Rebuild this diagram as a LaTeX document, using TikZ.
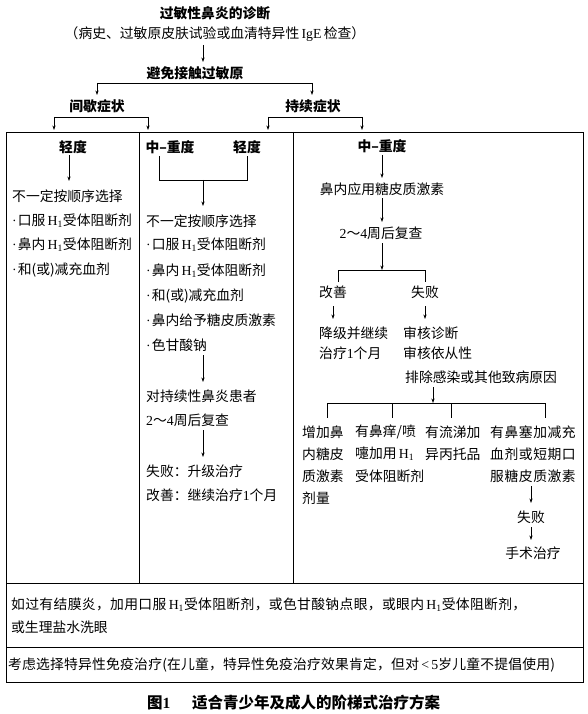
\documentclass[tikz,border=0pt]{standalone}
\usepackage{fontspec}
\setmainfont{Noto Sans CJK SC}
\newfontfamily\lat{Liberation Serif}
\usetikzlibrary{arrows.meta}
\newcommand\myfont{\fontsize{13.8}{16}\selectfont}
\newcommand\Hone{{\lat\,H\textsubscript{1}}}
\newcommand\bul{{\lat\textperiodcentered}\hspace{1pt}}
\tikzset{
  txt/.style={inner sep=0pt, font=\myfont, anchor=west},
  ctxt/.style={inner sep=0pt, font=\myfont},
  hd/.style={inner sep=0pt, font=\myfont\bfseries},
  conn/.style={line width=0.7pt},
  arr/.style={conn, -{Stealth[length=4.5pt,width=3.2pt]}},
  frame/.style={line width=0.9pt}
}
\begin{document}
\begin{tikzpicture}[x=1pt,y=-1pt]
\useasboundingbox[fill=white] (0,0) rectangle (587,714);

% ---------- top ----------
\node[hd] (title) at (215,13) {过敏性鼻炎的诊断};
\node[ctxt] (sub) at (215,34) {（病史、过敏原皮肤试验或血清特异性{\lat\,IgE\,}检查）};
\node[hd] (avoid) at (195,73) {避免接触过敏原};
\node[hd] (inter) at (97,106) {间歇症状};
\node[hd] (pers) at (313,106) {持续症状};

\coordinate (a1) at (203,45);
\coordinate (a2) at (203,62);
\draw[arr] (a1) -- (a2);

\coordinate (b1) at (97,83);
\coordinate (b2) at (312,83);
\coordinate (b1e) at (97,95);
\coordinate (b2e) at (312,95);
\draw[arr] (b1) -- (b1e);
\draw[arr] (b2) -- (b2e);
\draw[conn] (b1) -- (b2);

\coordinate (l1) at (54,117);
\coordinate (l2) at (148,117);
\coordinate (l1e) at (54,130);
\coordinate (l2e) at (148,130);
\draw[conn] (l1) -- (l2);
\draw[arr] (l1) -- (l1e);
\draw[arr] (l2) -- (l2e);

\coordinate (r1) at (268,117);
\coordinate (r2) at (362,117);
\coordinate (r1e) at (268,130);
\coordinate (r2e) at (362,130);
\draw[conn] (r1) -- (r2);
\draw[arr] (r1) -- (r1e);
\draw[arr] (r2) -- (r2e);

% ---------- frame ----------
\coordinate (boxtl) at (6,132);
\coordinate (boxbr) at (583,682);
\draw[frame] (boxtl) rectangle (boxbr);
\coordinate (d1t) at (139,132);
\coordinate (d1b) at (139,583);
\coordinate (d2t) at (293,132);
\coordinate (d2b) at (293,583);
\draw[frame] (d1t) -- (d1b);
\draw[frame] (d2t) -- (d2b);
\coordinate (h1l) at (6,583);
\coordinate (h1r) at (583,583);
\coordinate (h2l) at (6,647);
\coordinate (h2r) at (583,647);
\draw[frame] (h1l) -- (h1r);
\draw[frame] (h2l) -- (h2r);

% ---------- left column ----------
\node[hd] (lmild) at (73,147) {轻度};
\coordinate (lm1) at (69,155);
\coordinate (lm2) at (69,181);
\draw[arr] (lm1) -- (lm2);
\node[txt] (lt1) at (12,196) {不一定按顺序选择};
\node[txt] (lt2) at (12,221) {\bul 口服\Hone 受体阻断剂};
\node[txt] (lt3) at (12,245) {\bul 鼻内\Hone 受体阻断剂};
\node[txt] (lt4) at (12,270) {\bul 和(或)减充血剂};

% ---------- middle column ----------
\node[hd] (mmod) at (170,147) {中–重度};
\node[hd] (mmild) at (247,147) {轻度};
\coordinate (mb1) at (159,156);
\coordinate (mb2) at (159,180);
\coordinate (mb3) at (247,180);
\coordinate (mb4) at (247,156);
\draw[conn] (mb1) -- (mb2) -- (mb3) -- (mb4);
\coordinate (ma1) at (203,180);
\coordinate (ma2) at (203,206);
\draw[arr] (ma1) -- (ma2);
\node[txt] (mt1) at (146,221) {不一定按顺序选择};
\node[txt] (mt2) at (146,245) {\bul 口服\Hone 受体阻断剂};
\node[txt] (mt3) at (146,271) {\bul 鼻内\Hone 受体阻断剂};
\node[txt] (mt4) at (146,296) {\bul 和(或)减充血剂};
\node[txt] (mt5) at (146,320) {\bul 鼻内给予糖皮质激素};
\node[txt] (mt6) at (146,345) {\bul 色甘酸钠};
\coordinate (mc1) at (203,355);
\coordinate (mc2) at (203,382);
\draw[arr] (mc1) -- (mc2);
\node[txt] (mt7) at (146,396) {对持续性鼻炎患者};
\node[txt] (mt8) at (146,420) {{\lat 2}～{\lat 4}周后复查};
\coordinate (md1) at (203,430);
\coordinate (md2) at (203,457);
\draw[arr] (md1) -- (md2);
\node[txt] (mt9) at (146,471) {失败：升级治疗};
\node[txt] (mt10) at (146,495) {改善：继续治疗{\lat 1}个月};

% ---------- right column ----------
\node[hd] (rmod) at (382,146) {中–重度};
\coordinate (ra1) at (382,155);
\coordinate (ra2) at (382,178);
\draw[arr] (ra1) -- (ra2);
\node[ctxt] (rt1) at (382,189) {鼻内应用糖皮质激素};
\coordinate (rb1) at (382,198);
\coordinate (rb2) at (382,222);
\draw[arr] (rb1) -- (rb2);
\node[ctxt] (rt2) at (381,233) {{\lat 2}～{\lat 4}周后复查};
\coordinate (rc1) at (382,243);
\coordinate (rc2) at (382,270);
\draw[arr] (rc1) -- (rc2);
\coordinate (rk1) at (338,282);
\coordinate (rk2) at (338,270);
\coordinate (rk3) at (425,270);
\coordinate (rk4) at (425,282);
\draw[conn] (rk1) -- (rk2) -- (rk3) -- (rk4);
\node[ctxt] (rimp) at (333,292) {改善};
\node[ctxt] (rfail) at (425,292) {失败};
\coordinate (ri1) at (333,306);
\coordinate (ri2) at (333,319);
\draw[arr] (ri1) -- (ri2);
\coordinate (rf1) at (425,306);
\coordinate (rf2) at (425,319);
\draw[arr] (rf1) -- (rf2);
\node[txt] (rs1) at (319,333) {降级并继续};
\node[txt] (rs2) at (319,353) {治疗{\lat 1}个月};
\node[txt] (rs3) at (403,333) {审核诊断};
\node[txt] (rs4) at (403,353) {审核依从性};
\node[txt] (rs5) at (405,377) {排除感染或其他致病原因};
\coordinate (re1) at (433,387);
\coordinate (re2) at (433,403);
\draw[arr] (re1) -- (re2);
\coordinate (rg1) at (327,403);
\coordinate (rg2) at (545,403);
\draw[conn] (rg1) -- (rg2);
\coordinate (rg1b) at (327,418);
\coordinate (rg3) at (392,403);
\coordinate (rg3b) at (392,418);
\coordinate (rg4) at (451,403);
\coordinate (rg4b) at (451,418);
\coordinate (rg2b) at (545,418);
\draw[conn] (rg1) -- (rg1b);
\draw[conn] (rg3) -- (rg3b);
\draw[conn] (rg4) -- (rg4b);
\draw[conn] (rg2) -- (rg2b);

\node[txt] (c1a) at (302,432) {增加鼻};
\node[txt] (c1b) at (302,454) {内糖皮};
\node[txt] (c1c) at (302,476) {质激素};
\node[txt] (c1d) at (302,498) {剂量};
\node[txt] (c2a) at (355,432) {有鼻痒/喷};
\node[txt] (c2b) at (355,454) {嚏加用\Hone};
\node[txt] (c2c) at (355,476) {受体阻断剂};
\node[txt] (c3a) at (425,432) {有流涕加};
\node[txt] (c3b) at (425,454) {异丙托品};
\node[txt,font=\myfont\addfontfeature{LetterSpace=4}] (c4a) at (490,432) {有鼻塞加减充};
\node[txt,font=\myfont\addfontfeature{LetterSpace=4}] (c4b) at (490,454) {血剂或短期口};
\node[txt,font=\myfont\addfontfeature{LetterSpace=4}] (c4c) at (490,476) {服糖皮质激素};
\coordinate (s1) at (531,486);
\coordinate (s2) at (531,503);
\draw[arr] (s1) -- (s2);
\node[ctxt] (sfail) at (531,517) {失败};
\coordinate (s3) at (531,527);
\coordinate (s4) at (531,540);
\draw[arr] (s3) -- (s4);
\node[ctxt] (surg) at (533,553) {手术治疗};

% ---------- bottom ----------
\node[txt,font=\myfont\addfontfeature{LetterSpace=2.5}] (eye1) at (11,605) {如过有结膜炎，加用口服\Hone 受体阻断剂，或色甘酸钠点眼，或眼内\Hone 受体阻断剂，};
\node[txt] (eye2) at (11,627) {或生理盐水洗眼};
\node[txt,font=\myfont\addfontfeature{LetterSpace=1.5}] (immu) at (8,665) {考虑选择特异性免疫治疗(在儿童，特异性免疫治疗效果肯定，但对{\lat\,<\,5}岁儿童不提倡使用)};
\node[inner sep=0pt, anchor=west, font=\fontsize{15.5}{18}\selectfont\bfseries] (cap) at (147,703) {图{\lat\bfseries 1}\hspace{1.4em}适合青少年及成人的阶梯式治疗方案};
\end{tikzpicture}
\end{document}
